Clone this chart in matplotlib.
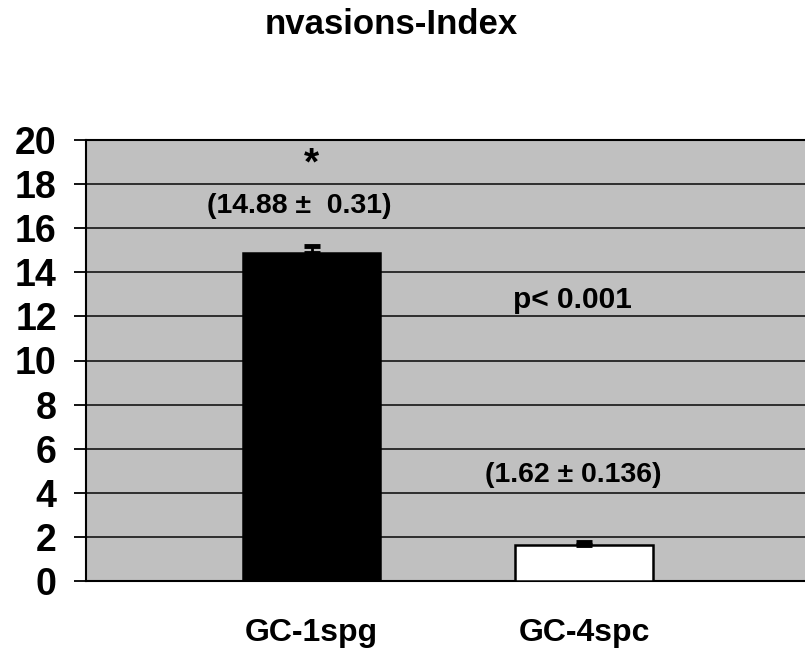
import matplotlib
matplotlib.use("Agg")
import matplotlib.pyplot as plt
import numpy as np

categories = ["GC-1spg", "GC-4spc"]
values = [14.88, 1.62]
errors = [0.31, 0.136]
bar_colors = ["#000000", "#ffffff"]
yticks = [0, 2, 4, 6, 8, 10, 12, 14, 16, 18, 20]
title = "nvasions-Index"
ann_texts = ["*", "(14.88 \u00b1  0.31)", "p< 0.001", "(1.62 \u00b1 0.136)"]

plt.rcParams['font.family'] = ['Liberation Sans', 'DejaVu Sans']
plt.rcParams['font.weight'] = 'bold'

fig = plt.figure(figsize=(8.05, 6.48), dpi=100)
ax = fig.add_axes([86/805, 1-581/648, 1-86/805+0.01, (581-140)/648])
ax.set_facecolor("#c0c0c0")

x = np.arange(len(categories))
ax.set_ylim(0, 20)
ax.set_xlim(-0.828, 1.84)
ax.set_yticks(yticks)
ax.yaxis.grid(True, color="#222222", lw=1.3)
ax.set_axisbelow(True)

ax.bar(x, values, width=0.505, color=bar_colors, edgecolor="black", linewidth=1.8, zorder=3)
ax.errorbar(x, values, yerr=[[0]*len(values), errors], fmt="none", ecolor="black",
            elinewidth=2, capsize=6, capthick=3.5, zorder=4)

for s in ["right"]:
    ax.spines[s].set_visible(False)
for s in ["left", "bottom", "top"]:
    ax.spines[s].set_color("black")
    ax.spines[s].set_linewidth(1.5)

ax.set_xticks(x)
ax.set_xticklabels(categories, fontsize=23, fontweight="bold")
ax.tick_params(axis="x", length=0, pad=27)
ax.tick_params(axis="y", length=9, width=1.3, pad=12, labelsize=27, direction="out")
for lbl in ax.get_yticklabels():
    lbl.set_fontweight("bold")

ax.text(0, 18.9, ann_texts[0], ha="center", va="center", fontsize=28, fontweight="bold")
ax.text(-0.044, 17.0, ann_texts[1], ha="center", va="center", fontsize=20.5, fontweight="bold")
ax.text(0.956, 12.74, ann_texts[2], ha="center", va="center", fontsize=21.5, fontweight="bold")
ax.text(0.96, 4.8, ann_texts[3], ha="center", va="center", fontsize=20.5, fontweight="bold")

fig.text(391/805, 1-25/648, title, ha="center", va="center", fontsize=25, fontweight="bold")

fig.savefig("out.png", dpi=100)
